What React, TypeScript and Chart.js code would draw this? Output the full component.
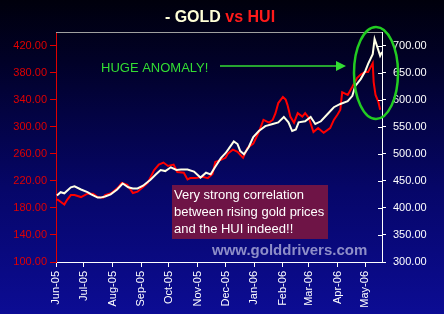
import React, { useEffect, useRef } from "react";
import { Chart, registerables } from "chart.js";

Chart.register(...registerables);

// Days since 1 Jun 2005
const goldDays = [1, 5, 9, 16, 20, 27, 34, 38, 45, 48, 53, 59, 66, 72, 78, 83, 88, 94, 102, 108, 113, 118, 124, 130, 135, 142, 149, 156, 162, 167, 172, 178, 183, 186, 192, 196, 199, 203, 208, 213, 219, 226, 234, 240, 246, 251, 255, 259, 262, 269, 275, 280, 286, 293, 300, 307, 315, 320, 323, 329, 334, 337, 342, 344, 347, 350, 352];
const goldPrices = [423, 429, 427, 438, 440, 434, 429, 425, 419, 419, 421, 425, 434, 445, 438, 436, 436, 441, 452, 462, 470, 468, 475, 470, 471, 471, 467, 456, 465, 462, 476, 492, 501, 508, 523, 518, 505, 499, 512, 531, 542, 551, 555, 558, 568, 558, 542, 545, 558, 560, 568, 555, 560, 573, 586, 592, 597, 607, 625, 638, 653, 666, 684, 712, 697, 681, 688];

const huiDays = [0, 2, 6, 9, 12, 16, 20, 27, 34, 40, 45, 51, 53, 60, 67, 71, 77, 83, 88, 94, 99, 106, 111, 116, 121, 127, 131, 138, 142, 145, 151, 158, 164, 169, 172, 178, 183, 186, 191, 196, 202, 207, 213, 219, 224, 230, 234, 237, 240, 245, 248, 250, 253, 257, 261, 266, 269, 273, 278, 283, 289, 296, 300, 304, 307, 309, 315, 320, 325, 329, 334, 337, 342, 343, 345, 348, 350];
const huiValues = [192, 192, 188, 185, 192, 199, 199, 196, 201, 201, 196, 195, 199, 202, 210, 217, 214, 202, 204, 211, 217, 236, 244, 247, 242, 244, 233, 232, 222, 224, 224, 226, 224, 230, 248, 251, 254, 261, 266, 263, 254, 269, 275, 292, 310, 306, 310, 320, 335, 344, 340, 332, 315, 306, 320, 315, 320, 313, 292, 298, 291, 298, 310, 318, 325, 351, 347, 359, 372, 377, 381, 381, 394, 366, 347, 337, 325];

const monthDays = [0, 30, 61, 92, 122, 153, 183, 214, 245, 273, 304, 334];
const monthLabels = ["Jun-05", "Jul-05", "Aug-05", "Sep-05", "Oct-05", "Nov-05", "Dec-05", "Jan-06", "Feb-06", "Mar-06", "Apr-06", "May-06"];
const huiTicks = [100, 140, 180, 220, 260, 300, 340, 380, 420];
const goldTicks = [300, 350, 400, 450, 500, 550, 600, 650, 700];

const FONT = "'Liberation Sans', Arial, sans-serif";

const decor = {
  id: "decor",
  beforeDraw(chart: any) {
    const { ctx, width, height } = chart;
    ctx.save();
    const g = ctx.createLinearGradient(0, 0, 0, height);
    g.addColorStop(0, "#00000c");
    g.addColorStop(0.2, "#010128");
    g.addColorStop(0.6, "#060668");
    g.addColorStop(1, "#0c0c94");
    ctx.fillStyle = g;
    ctx.fillRect(0, 0, width, height);
    ctx.restore();
  },
  afterDraw(chart: any) {
    const { ctx, chartArea } = chart;
    const { left, right, top } = chartArea;
    ctx.save();
    ctx.strokeStyle = "#a0a0a0";
    ctx.lineWidth = 1;
    ctx.beginPath();
    ctx.moveTo(left, top + 0.5);
    ctx.lineTo(right, top + 0.5);
    ctx.stroke();
    const yR = chart.scales.yGold;
    ctx.strokeStyle = "#ffffff";
    goldTicks.forEach((v) => {
      const y = Math.round(yR.getPixelForValue(v)) + 0.5;
      ctx.beginPath();
      ctx.moveTo(right - 4, y);
      ctx.lineTo(right, y);
      ctx.stroke();
    });
    ctx.font = `bold 16px ${FONT}`;
    ctx.textBaseline = "middle";
    const t1 = "- GOLD ";
    const t2 = "vs HUI";
    const w1 = ctx.measureText(t1).width;
    const w2 = ctx.measureText(t2).width;
    const tx = 220 - (w1 + w2) / 2;
    ctx.textAlign = "left";
    ctx.fillStyle = "#ffffd8";
    ctx.fillText(t1, tx, 18);
    ctx.fillStyle = "#ff1a1a";
    ctx.fillText(t2, tx + w1, 18);
    ctx.font = `13px ${FONT}`;
    ctx.fillStyle = "#33dd33";
    ctx.fillText("HUGE ANOMALY!", 101, 68);
    ctx.strokeStyle = "#33dd33";
    ctx.fillStyle = "#33dd33";
    ctx.lineWidth = 1.5;
    ctx.beginPath();
    ctx.moveTo(220, 66);
    ctx.lineTo(338, 66);
    ctx.stroke();
    ctx.beginPath();
    ctx.moveTo(346, 66);
    ctx.lineTo(336, 61);
    ctx.lineTo(336, 71);
    ctx.closePath();
    ctx.fill();
    ctx.lineWidth = 2.5;
    ctx.strokeStyle = "#22cc22";
    ctx.beginPath();
    ctx.ellipse(376, 73, 22, 46, 0, 0, Math.PI * 2);
    ctx.stroke();
    ctx.fillStyle = "#6e1446";
    ctx.fillRect(172, 185, 156, 54);
    ctx.fillStyle = "#ffffff";
    ctx.font = `13px ${FONT}`;
    ctx.textBaseline = "middle";
    ctx.fillText("Very strong correlation", 174, 195);
    ctx.fillText("between rising gold prices", 174, 212);
    ctx.fillText("and the HUI indeed!!", 174, 229);
    ctx.font = `bold 15px ${FONT}`;
    ctx.fillStyle = "#8e8ec8";
    ctx.fillText("www.golddrivers.com", 212, 251);
    ctx.restore();
  },
};

export default function App() {
  const ref = useRef<HTMLCanvasElement>(null);
  useEffect(() => {
    document.body.style.margin = "0";
    const huiData = huiDays.map((d, i) => ({ x: d, y: huiValues[i] }));
    const goldData = goldDays.map((d, i) => ({ x: d, y: goldPrices[i] }));
    const chart = new Chart(ref.current!, {
      type: "line",
      data: {
        datasets: [
          {
            label: "GOLD",
            data: goldData,
            yAxisID: "yGold",
            borderColor: "#ffffe6",
            borderWidth: 2,
            pointRadius: 0,
            order: 0,
          },
          {
            label: "HUI",
            data: huiData,
            yAxisID: "yHui",
            borderColor: "#ff0000",
            borderWidth: 2,
            pointRadius: 0,
            order: 1,
          },
        ],
      },
      options: {
        responsive: false,
        animation: false,
        layout: { padding: { top: 32, left: 0, right: 0, bottom: 0 } },
        plugins: { legend: { display: false }, tooltip: { enabled: false } },
        scales: {
          x: {
            type: "linear",
            min: 0,
            max: 352,
            afterBuildTicks: (s: any) => {
              s.ticks = monthDays.map((v) => ({ value: v }));
            },
            afterFit: (s: any) => {
              s.height = 52;
            },
            ticks: {
              color: "#ffffff",
              font: { family: FONT, size: 11 },
              minRotation: 90,
              maxRotation: 90,
              autoSkip: false,
              padding: 4,
              callback: (v: any) => monthLabels[monthDays.indexOf(Number(v))] ?? "",
            },
            grid: { drawOnChartArea: false, color: "#ffffff", tickLength: 5 },
            border: { color: "#ffffff", width: 1 },
          },
          yHui: {
            type: "linear",
            position: "left",
            min: 100,
            max: 440,
            afterBuildTicks: (s: any) => {
              s.ticks = huiTicks.map((v) => ({ value: v }));
            },
            afterFit: (s: any) => {
              s.width = 56;
            },
            ticks: {
              color: "#e00000",
              font: { family: FONT, size: 11 },
              padding: 3,
              callback: (v: any) => Number(v).toFixed(2),
            },
            grid: { drawOnChartArea: false, color: "#e00000", tickLength: 6 },
            border: { color: "#e00000", width: 1 },
          },
          yGold: {
            type: "linear",
            position: "right",
            min: 300,
            max: 725,
            afterBuildTicks: (s: any) => {
              s.ticks = goldTicks.map((v) => ({ value: v }));
            },
            afterFit: (s: any) => {
              s.width = 62;
            },
            ticks: {
              color: "#ffffff",
              font: { family: FONT, size: 11 },
              padding: 7,
              callback: (v: any) => Number(v).toFixed(2),
            },
            grid: { drawOnChartArea: false, color: "#ffffff", tickLength: 4 },
            border: { color: "#ffffff", width: 1 },
          },
        },
      },
      plugins: [decor],
    });
    return () => chart.destroy();
  }, []);
  return (
    <div style={{ position: "absolute", left: 0, top: 0, width: 444, height: 314 }}>
      <canvas ref={ref} width={444} height={314} />
    </div>
  );
}
